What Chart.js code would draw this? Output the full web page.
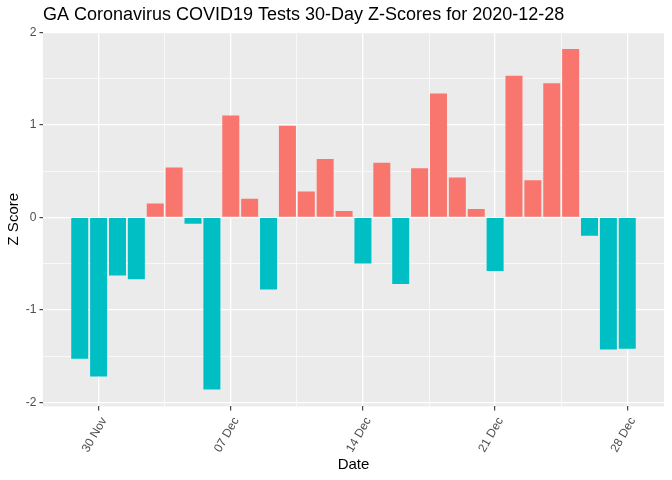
<!DOCTYPE html>
<html>
<head>
<meta charset="utf-8">
<script src="https://cdn.jsdelivr.net/npm/chart.js@4"></script>
<style>
html,body{margin:0;padding:0;background:#fff;}
#wrap{width:672px;height:480px;}
</style>
</head>
<body>
<div id="wrap"><canvas id="c" width="672" height="480"></canvas></div>
<script>
const chartTitle = 'GA Coronavirus COVID19 Tests 30-Day Z-Scores for 2020-12-28';
const dates = ['2020-11-29','2020-11-30','2020-12-01','2020-12-02','2020-12-03','2020-12-04','2020-12-05',
  '2020-12-06','2020-12-07','2020-12-08','2020-12-09','2020-12-10','2020-12-11','2020-12-12','2020-12-13',
  '2020-12-14','2020-12-15','2020-12-16','2020-12-17','2020-12-18','2020-12-19','2020-12-20','2020-12-21',
  '2020-12-22','2020-12-23','2020-12-24','2020-12-25','2020-12-26','2020-12-27','2020-12-28'];
const zScores = [-1.53,-1.72,-0.63,-0.67,0.15,0.54,-0.07,
  -1.86,1.10,0.20,-0.78,0.99,0.28,0.63,0.07,
  -0.50,0.59,-0.72,0.53,1.34,0.43,0.09,-0.58,
  1.53,0.40,1.45,1.82,-0.20,-1.43,-1.42];
const xTickDates = ['2020-11-30','2020-12-07','2020-12-14','2020-12-21','2020-12-28'];
const xTickLabels = ['30 Nov','07 Dec','14 Dec','21 Dec','28 Dec'];
const yMajorTicks = [-2,-1,0,1,2];
const yMinorTicks = [-1.5,-0.5,0.5,1.5];

const DAY = 86400000;
const t0 = Date.parse(dates[0]);
const dayIndex = d => Math.round((Date.parse(d) - t0) / DAY);
const points = dates.map((d, i) => ({x: dayIndex(d), y: zScores[i]}));
const xMajor = xTickDates.map(dayIndex);
const xMinor = [];
for (let i = 0; i < xMajor.length - 1; i++) xMinor.push((xMajor[i] + xMajor[i+1]) / 2);

const nDays = dates.length;
const xPad = (nDays - 1 + 0.9) * 0.05;
const xMin = -0.45 - xPad, xMax = nDays - 1 + 0.45 + xPad;
const zMin = Math.min(...zScores), zMax = Math.max(...zScores);
const yPad = (zMax - zMin) * 0.05;

const isMajorX = v => xMajor.includes(v);
const isMajorY = v => yMajorTicks.includes(v);
const FONT = 'Liberation Sans, Arial, sans-serif';

const panelBg = {
  id: 'panelBg',
  beforeDraw(chart) {
    const {ctx, chartArea: a} = chart;
    ctx.save();
    ctx.fillStyle = '#EBEBEB';
    ctx.fillRect(a.left, a.top, a.right - a.left, a.bottom - a.top);
    ctx.restore();
  }
};

new Chart(document.getElementById('c'), {
  type: 'bar',
  data: {
    datasets: [{
      data: points,
      backgroundColor: zScores.map(v => v > 0 ? '#F8766D' : '#00BFC4'),
      borderWidth: 0,
      barPercentage: 0.9,
      categoryPercentage: 1.0
    }]
  },
  plugins: [panelBg],
  options: {
    responsive: false,
    animation: false,
    devicePixelRatio: 1,
    layout: {padding: {left: 2, right: 8, top: 0, bottom: 6}},
    plugins: {
      legend: {display: false},
      tooltip: {enabled: false},
      title: {
        display: true,
        text: chartTitle,
        align: 'start',
        fullSize: false,
        color: '#000',
        font: {family: FONT, size: 18, weight: 'normal'},
        padding: {top: 4.7, bottom: 5.7}
      }
    },
    scales: {
      x: {
        type: 'linear',
        offset: false,
        min: xMin,
        max: xMax,
        afterBuildTicks(scale) {
          scale.ticks = [...xMajor, ...xMinor].sort((a, b) => a - b).map(v => ({value: v}));
        },
        afterFit(scale) { scale.height = 480 - 6 - 406.4; },
        border: {display: false},
        grid: {
          offset: false,
          color: '#FFFFFF',
          lineWidth: c => isMajorX(c.tick.value) ? 1.3 : 0.65,
          tickColor: c => isMajorX(c.tick.value) ? '#333333' : 'rgba(0,0,0,0)',
          tickWidth: 1.1,
          tickLength: 4
        },
        ticks: {
          autoSkip: false,
          maxRotation: 60,
          minRotation: 60,
          padding: 4.4,
          labelOffset: 5.5,
          color: '#4D4D4D',
          font: {family: FONT, size: 12},
          callback: v => { const k = xMajor.indexOf(v); return k >= 0 ? xTickLabels[k] : ''; }
        },
        title: {
          display: true,
          text: 'Date',
          color: '#000',
          font: {family: FONT, size: 15},
          padding: {top: 0, bottom: 0}
        }
      },
      y: {
        type: 'linear',
        min: zMin - yPad,
        max: zMax + yPad,
        afterBuildTicks(scale) {
          scale.ticks = [...yMajorTicks, ...yMinorTicks].sort((a, b) => a - b).map(v => ({value: v}));
        },
        afterFit(scale) { scale.width = 43 - 2; },
        border: {display: false},
        grid: {
          color: '#FFFFFF',
          lineWidth: c => isMajorY(c.tick.value) ? 1.3 : 0.65,
          tickColor: c => isMajorY(c.tick.value) ? '#333333' : 'rgba(0,0,0,0)',
          tickWidth: 1.1,
          tickLength: 3.5
        },
        ticks: {
          autoSkip: false,
          padding: 3,
          color: '#4D4D4D',
          font: {family: FONT, size: 12},
          callback: v => isMajorY(v) ? String(v) : ''
        },
        title: {
          display: true,
          text: 'Z Score',
          color: '#000',
          font: {family: FONT, size: 15},
          padding: {top: 2.8, bottom: 0}
        }
      }
    }
  }
});
</script>
</body>
</html>
